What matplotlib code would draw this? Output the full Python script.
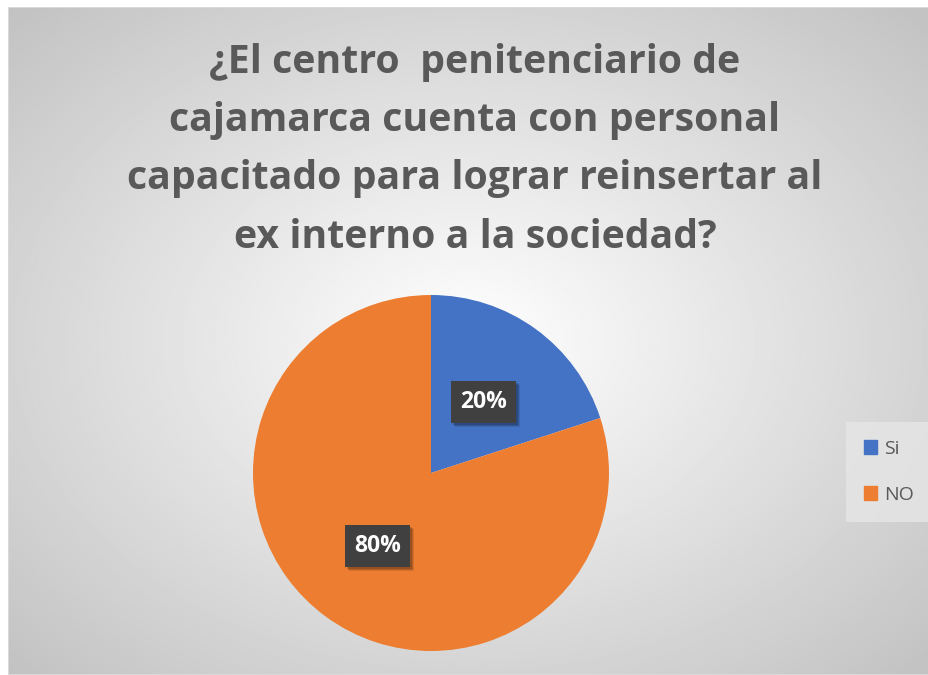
import matplotlib.pyplot as plt
import matplotlib.patches as mpatches
import numpy as np

labels = ["Si", "NO"]
values = [20, 80]
colors = ["#4472C4", "#ED7D31"]
title_lines = ["¿El centro  penitenciario de",
               "cajamarca cuenta con personal",
               "capacitado para lograr reinsertar al",
               "ex interno a la sociedad?"]

fig = plt.figure(figsize=(9.29, 6.75), dpi=100)

# radial gradient background
bg = fig.add_axes([8/929, 0, 921/929, 668/675])
yy, xx = np.mgrid[-1:1:300j, -1:1:400j]
r = np.sqrt(xx**2 + yy**2) / np.sqrt(2)
bg.imshow(1 - 0.24*r, cmap="gray", vmin=0, vmax=1, extent=[0, 1, 0, 1],
          aspect="auto", interpolation="bilinear")
bg.add_patch(mpatches.Rectangle((0, 0), 1, 1, fill=False, edgecolor="#d9d9d9", lw=1.5,
                                transform=bg.transAxes))
bg.axis("off")

for i, line in enumerate(title_lines):
    fig.text(475/929, 1 - (63 + 58*i)/675, line, ha="center", va="center",
             fontsize=28.3, fontweight="bold", color="#595959", family="Open Sans")

# pie
R = 178
cx, cy = 431, 473
ax = fig.add_axes([(cx - R)/929, 1 - (cy + R)/675, 2*R/929, 2*R/675])
wedges, _ = ax.pie(values, colors=colors, startangle=90, counterclock=False,
                   wedgeprops=dict(linewidth=0))
ax.set_aspect("auto")
ax.set_xlim(-1, 1)
ax.set_ylim(-1, 1)

plt.rcParams["hatch.color"] = "#535353"
plt.rcParams["hatch.linewidth"] = 1.5
label_pos = [(0.295, 0.40), (-0.30, -0.41)]
texts = []
for (x, y), v in zip(label_pos, values):
    t = ax.text(x, y, f"{v}%", ha="center", va="center", fontsize=16.5, fontweight="bold",
                color="white", family="Open Sans", zorder=6,
                bbox=dict(boxstyle="square,pad=0.4", facecolor="none", lw=0))
    texts.append(t)

# boxes behind labels: soft shadow + dotted dark fill
fig.canvas.draw()
for t in texts:
    bb = t.get_bbox_patch().get_window_extent()
    t.set_bbox(None)
    for k, a in [(4, 0.10), (3, 0.15), (2, 0.15)]:
        ax.add_patch(mpatches.Rectangle((bb.x0 + k, bb.y0 - k), bb.width, bb.height,
                                        transform=None, facecolor="black", alpha=a,
                                        lw=0, zorder=4))
    ax.add_patch(mpatches.Rectangle((bb.x0, bb.y0), bb.width, bb.height, transform=None,
                                    facecolor="#404040", edgecolor="#404040", hatch="..",
                                    lw=0, zorder=5))

# legend
leg_handles = [mpatches.Patch(color=c, label=l) for c, l in zip(colors, labels)]
leg = fig.legend(handles=leg_handles, loc="center", bbox_to_anchor=(889/929, 1 - 472/675),
                 frameon=True, fancybox=False, facecolor="#e6e6e6", edgecolor="none",
                 handlelength=0.7, handleheight=0.7, labelspacing=1.45,
                 handletextpad=0.35, borderpad=0.9, labelcolor="#595959",
                 prop=dict(family="Open Sans", size=14))

fig.savefig("out.png", dpi=100)
